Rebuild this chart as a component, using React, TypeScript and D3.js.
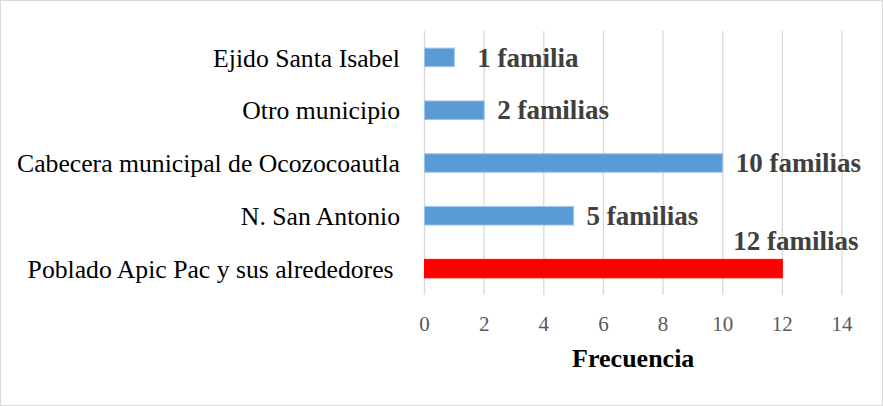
import React from "react";
import * as d3 from "d3";

const categories = [
  "Ejido Santa Isabel",
  "Otro municipio",
  "Cabecera municipal de Ocozocoautla",
  "N. San Antonio",
  "Poblado Apic Pac y sus alrededores ",
];
const values = [1, 2, 10, 5, 12];
const valueLabels = ["1 familia", "2 familias", "10 familias", "5 familias", "12 familias"];
const highlight = [false, false, false, false, true];
const xTicks = [0, 2, 4, 6, 8, 10, 12, 14];
const xTitle = "Frecuencia";

const W = 883;
const H = 406;
const M = { left: 424.5, right: 41, top: 31, bottom: 111 };
const FONT = "'Liberation Serif', 'Times New Roman', serif";

export default function App() {
  const x = d3.scaleLinear().domain([0, 14]).range([M.left, W - M.right]);
  const y = d3
    .scaleBand<string>()
    .domain(categories)
    .range([M.top, H - M.bottom])
    .paddingInner(0.65)
    .paddingOuter(0.325);

  return (
    <svg
      width={W}
      height={H}
      style={{ position: "absolute", left: 0, top: 0, background: "#fff" }}
    >
      <rect x={0.5} y={0.5} width={W - 1} height={H - 1} fill="#fff" stroke="#d9d9d9" />
      {xTicks.map((t) => (
        <line
          key={"g" + t}
          x1={x(t)}
          x2={x(t)}
          y1={M.top}
          y2={H - M.bottom}
          stroke="#d9d9d9"
          strokeWidth={1.3}
        />
      ))}
      {xTicks.map((t) => (
        <text
          key={"t" + t}
          x={x(t)}
          y={331}
          textAnchor="middle"
          fontFamily={FONT}
          fontSize={21}
          fill="#595959"
        >
          {t}
        </text>
      ))}
      {categories.map((c, i) => (
        <g key={c}>
          <rect
            x={x(0)}
            y={y(c)!}
            width={x(values[i]) - x(0)}
            height={y.bandwidth()}
            fill={highlight[i] ? "#ff0000" : "#5b9bd5"}
            stroke={highlight[i] ? "#ff0000" : "#9dc3e6"}
            strokeWidth={1}
          />
          <text
            x={400}
            y={y(c)! + y.bandwidth()}
            textAnchor="end"
            fontFamily={FONT}
            fontSize={25.7}
            fill="#000"
            style={{ whiteSpace: "pre" }}
          >
            {c}
          </text>
          <text
            x={highlight[i] ? x(values[i]) - 49 : x(values[i]) + (values[i] === 1 ? 23 : 13)}
            y={highlight[i] ? y(c)! - 9 : y(c)! + y.bandwidth()}
            fontFamily={FONT}
            fontSize={27}
            fontWeight="bold"
            fill="#404040"
          >
            {valueLabels[i]}
          </text>
        </g>
      ))}
      <text
        x={(x(0) + x(14)) / 2}
        y={367}
        textAnchor="middle"
        fontFamily={FONT}
        fontSize={26}
        fontWeight="bold"
        fill="#000"
      >
        {xTitle}
      </text>
    </svg>
  );
}
